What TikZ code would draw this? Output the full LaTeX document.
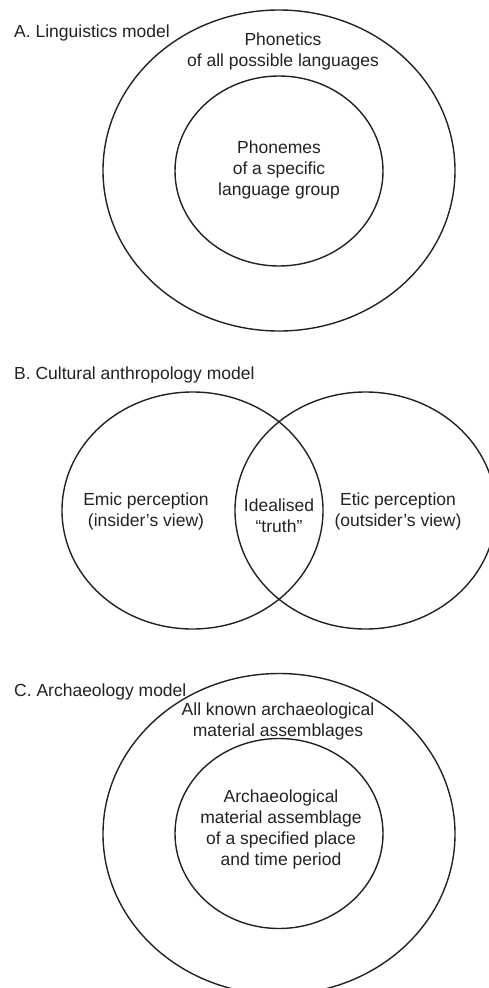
\documentclass[tikz,border=0pt]{standalone}
\usepackage{fontspec}
\setmainfont{Liberation Sans}
\usepackage{tikz}
\usetikzlibrary{shapes}
\definecolor{inkgray}{HTML}{222222}

\begin{document}
\begin{tikzpicture}[x=1pt,y=-1pt,
  font=\fontsize{17.5}{21}\selectfont,
  every node/.style={
    text=inkgray
  },
  title/.style={
    anchor=base west,
    inner sep=0pt
  },
  set/.style={
    ellipse,
    draw=inkgray,
    line width=1.4pt,
    inner sep=0pt
  },
  outer/.style={
    set,
    minimum width=352pt,
    minimum height=321pt
  },
  inner/.style={
    set,
    minimum width=208pt,
    minimum height=190pt
  },
  half/.style={
    set,
    minimum width=261pt,
    minimum height=237pt
  },
  label/.style={
    align=center,
    inner sep=0pt
  }
  ]

  \useasboundingbox (0,0) rectangle (488,988);

  \pgfmathsetmacro{\ya}{170.5}
  \pgfmathsetmacro{\yb}{510.5}
  \pgfmathsetmacro{\yc}{834}

  % A. linguistics
  \node [title] (titleA) at (14,37.5) {A. Linguistics model};
  \node [outer] (phonetics) at (279,\ya) {};
  \node [inner] (phonemes) at (279,171) {};
  \node [label] (phoneticsTxt) at (283,51) {Phonetics\\of all possible languages};
  \node [label] (phonemesTxt) at (279,169.7) {Phonemes\\of a specific\\language group};

  % B. cultural anthropology
  \node [title] (titleB) at (14,379) {B. Cultural anthropology model};
  \node [half] (emic) at (192.5,\yb) {};
  \node [half] (etic) at (365.5,\yb) {};
  \node [label] (emicTxt) at (146,511) {Emic perception\\(insider’s view)};
  \node [label] (truthTxt) at (279,515.5) {Idealised\\“truth”};
  \node [label] (eticTxt) at (398,511) {Etic perception\\(outsider’s view)};

  % C. archaeology
  \node [title] (titleC) at (14,696) {C. Archaeology model};
  \node [outer] (allknown) at (279,\yc) {};
  \node [inner] (specified) at (279,833.5) {};
  \node [label] (allknownTxt) at (278,721) {All known archaeological\\material assemblages};
  \node [label] (specifiedTxt) at (281,829.7) {Archaeological\\material assemblage\\of a specified place\\and time period};

\end{tikzpicture}
\end{document}
